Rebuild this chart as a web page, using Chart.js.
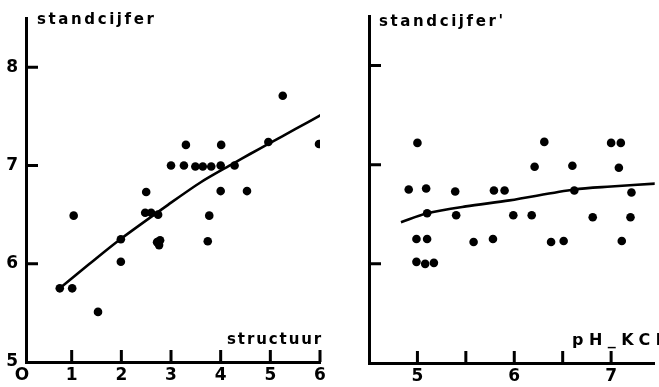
<!DOCTYPE html>
<html>
<head>
<meta charset="utf-8">
<script src="https://cdn.jsdelivr.net/npm/chart.js@4/dist/chart.umd.min.js"></script>
<style>
  html, body { margin: 0; padding: 0; background: #fff; }
  #wrap { position: relative; width: 659px; height: 387px; overflow: hidden; background: #fff; }
  .panel { position: absolute; top: 0; }
  .lbl { position: absolute; font-family: "DejaVu Sans", sans-serif; font-weight: bold; font-size: 15px; line-height: 15px; color: #000; white-space: nowrap; }
</style>
</head>
<body>
<div id="wrap">
  <div class="panel" style="left:0;width:330px;height:387px"><canvas id="left" width="330" height="387"></canvas></div>
  <div class="panel" style="left:330px;width:329px;height:387px"><canvas id="right" width="329" height="387"></canvas></div>
  <div class="lbl" style="left:37px;top:12px;letter-spacing:2.6px">standcijfer</div>
  <div class="lbl" style="left:227px;top:332px;letter-spacing:1.9px">structuur</div>
  <div class="lbl" style="left:379px;top:14px;letter-spacing:2.6px">standcijfer'</div>
  <div class="lbl" style="left:572px;top:332px;font-size:16px;letter-spacing:5.5px">pH_KCl</div>
</div>
<script>
// left panel: standcijfer against structuur
const structuurX = [5.25, 3.3, 4.01, 4.96, 5.98,
                    3.0, 3.26, 3.49, 3.64, 3.81, 4.0, 4.28,
                    2.5, 4.0, 4.53,
                    1.04, 2.48, 2.6, 2.74, 3.77,
                    1.99, 2.72, 2.78, 2.76, 3.74,
                    1.99, 0.76, 1.01, 1.53];
const structuurY = [7.71, 7.21, 7.21, 7.24, 7.22,
                    7.0, 7.0, 6.99, 6.99, 6.99, 7.0, 7.0,
                    6.73, 6.74, 6.74,
                    6.49, 6.52, 6.52, 6.5, 6.49,
                    6.25, 6.22, 6.24, 6.19, 6.23,
                    6.02, 5.75, 5.75, 5.51];
const fitStructuurX = [0.76, 1.36, 1.98, 2.94, 3.6, 4.25, 4.6, 4.96, 5.5, 6.04];
const fitStructuurY = [5.75, 6.0, 6.25, 6.6, 6.83, 7.02, 7.12, 7.22, 7.37, 7.52];
const structuurTicks = [0, 1, 2, 3, 4, 5, 6];
const structuurTickLabels = ['O', '1', '2', '3', '4', '5', '6'];
const leftYTicks = [5, 6, 7, 8];

// right panel: standcijfer against pH-KCl
const phX = [5.0, 6.31, 7.0, 7.1,
             6.21, 6.6, 7.08,
             4.91, 5.09, 5.39, 5.79, 5.9, 6.62, 7.21,
             5.1, 5.4, 5.99, 6.18, 6.81, 7.2,
             4.99, 5.1, 5.58, 5.78, 6.38, 6.51, 7.11,
             4.99, 5.08, 5.17];
const phY = [7.22, 7.23, 7.22, 7.22,
             6.98, 6.99, 6.97,
             6.75, 6.76, 6.73, 6.74, 6.74, 6.74, 6.72,
             6.51, 6.49, 6.49, 6.49, 6.47, 6.47,
             6.25, 6.25, 6.22, 6.25, 6.22, 6.23, 6.23,
             6.02, 6.0, 6.01];
const fitPhX = [4.83, 5.1, 5.5, 5.95, 6.62, 7.0, 7.46];
const fitPhY = [6.42, 6.51, 6.58, 6.64, 6.75, 6.78, 6.81];
const phTicks = [5, 6, 7];
const phTickMarks = [5, 5.5, 6, 6.5, 7];
const rightYTicks = [6, 7, 8];

const tickFont = { family: 'DejaVu Sans', size: 17, weight: 'bold' };

function pts(xs, ys) {
    return xs.map((x, i) => ({ x: x, y: ys[i] }));
}

// short tick marks pointing into the plot, drawn through the scales
const innerTicks = {
    id: 'innerTicks',
    afterDraw(chart, args, opts) {
        const ctx = chart.ctx;
        const xs = chart.scales.x, ys = chart.scales.y;
        const area = chart.chartArea;
        ctx.save();
        ctx.strokeStyle = '#000';
        ctx.lineWidth = 3;
        ctx.beginPath();
        for (const v of opts.xMarks) {
            const px = xs.getPixelForValue(v);
            ctx.moveTo(px, area.bottom);
            ctx.lineTo(px, area.bottom - 12);
        }
        for (const v of opts.yMarks) {
            const py = ys.getPixelForValue(v);
            ctx.moveTo(area.left, py);
            ctx.lineTo(area.left + 12, py);
        }
        ctx.stroke();
        ctx.restore();
    }
};

function makeChart(id, cfg) {
    return new Chart(document.getElementById(id), {
        type: 'scatter',
        data: {
            datasets: [
                {
                    data: pts(cfg.dotX, cfg.dotY),
                    backgroundColor: '#000',
                    borderColor: '#000',
                    pointRadius: 4.3,
                    pointBorderWidth: 0
                },
                {
                    data: pts(cfg.fitX, cfg.fitY),
                    showLine: true,
                    borderColor: '#000',
                    borderWidth: 2.6,
                    pointRadius: 0,
                    tension: 0.3
                }
            ]
        },
        options: {
            responsive: false,
            devicePixelRatio: 1,
            animation: false,
            layout: { padding: cfg.padding },
            plugins: {
                legend: { display: false },
                tooltip: { enabled: false },
                innerTicks: { xMarks: cfg.xMarks, yMarks: cfg.yMarks }
            },
            scales: {
                x: {
                    type: 'linear',
                    min: cfg.xMin,
                    max: cfg.xMax,
                    grid: { display: false, drawTicks: false },
                    border: { display: true, color: '#000', width: 3 },
                    afterBuildTicks(axis) { axis.ticks = cfg.xTicks.map(v => ({ value: v })); },
                    afterFit(axis) { axis.height = cfg.xHeight; },
                    ticks: {
                        color: '#000',
                        font: tickFont,
                        padding: 3,
                        autoSkip: false,
                        maxRotation: 0,
                        callback: (v) => cfg.xLabel(v)
                    }
                },
                y: {
                    type: 'linear',
                    min: 5,
                    max: 8.5,
                    grid: { display: false, drawTicks: false },
                    border: { display: true, color: '#000', width: 3 },
                    afterBuildTicks(axis) { axis.ticks = cfg.yTicks.map(v => ({ value: v })); },
                    afterFit(axis) { axis.width = cfg.yWidth; },
                    ticks: {
                        display: cfg.yLabels,
                        color: '#000',
                        font: tickFont,
                        padding: 8
                    }
                }
            }
        },
        plugins: [innerTicks]
    });
}

makeChart('left', {
    dotX: structuurX, dotY: structuurY,
    fitX: fitStructuurX, fitY: fitStructuurY,
    xMin: 0.08, xMax: 6,
    xTicks: structuurTicks,
    xLabel: (v) => structuurTickLabels[structuurTicks.indexOf(v)],
    xMarks: structuurTicks.slice(1),
    yTicks: leftYTicks,
    yMarks: [6, 7, 8],
    yLabels: true,
    xHeight: 25, yWidth: 26,
    padding: { top: 12, right: 10, left: 0, bottom: 0 }
});

makeChart('right', {
    dotX: phX, dotY: phY,
    fitX: fitPhX, fitY: fitPhY,
    xMin: 4.5, xMax: 7.45,
    xTicks: phTicks,
    xLabel: (v) => String(v),
    xMarks: phTickMarks,
    yTicks: rightYTicks,
    yMarks: rightYTicks,
    yLabels: false,
    xHeight: 24, yWidth: 39,
    padding: { top: 16, right: 2, left: 0, bottom: 0 }
});
</script>
</body>
</html>
